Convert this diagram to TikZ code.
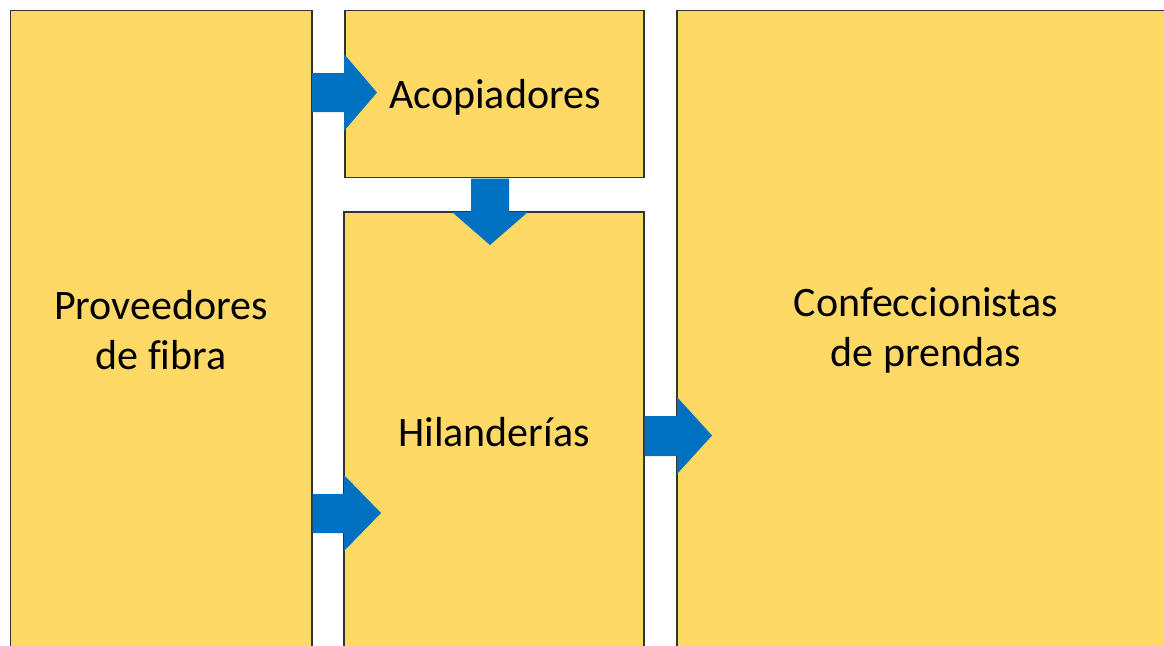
\documentclass[tikz,border=0pt]{standalone}
\usepackage{fontspec}
\setmainfont{Carlito}[Ligatures={NoCommon}]
\definecolor{boxfill}{RGB}{255,217,102}
\definecolor{arrowblue}{RGB}{0,112,192}
\begin{document}
\begin{tikzpicture}[x=1pt,y=-1pt,
  block/.style={draw=black!80,line width=1.1pt,fill=boxfill},
  lbl/.style={font=\fontsize{42}{50}\selectfont,align=center,inner sep=0pt},
  blockarrow/.style={fill=arrowblue,draw=none}]
\useasboundingbox (0,0) rectangle (1164,645);
\clip (0,0) rectangle (1164,645);
% boxes
\draw[block] (10.5,10.5) rectangle (312,660);
\draw[block] (345,10.5) rectangle (644,177.5);
\draw[block] (344,212) rectangle (644,660);
\draw[block] (677,10.5) rectangle (1180,660);
% labels
\node[lbl] (prov) at (161,330) {Proveedores\\de fibra};
\node[lbl] (acop) at (495,97) {Acopiadores};
\node[lbl] (hila) at (494,432) {Hilanderías};
\node[lbl] (conf) at (926,330) {Confeccionistas\\de prendas};
% block arrows
\fill[blockarrow] (312,73) -- (344,73) -- (344,54) -- (377,92.5) -- (344,131) -- (344,112) -- (312,112) -- cycle;
\fill[blockarrow] (471,178.5) -- (509,178.5) -- (509,212) -- (528,212) -- (490,245) -- (452,212) -- (471,212) -- cycle;
\fill[blockarrow] (312.5,494) -- (344,494) -- (344,475) -- (381,513) -- (344,551) -- (344,533) -- (312.5,533) -- cycle;
\fill[blockarrow] (644.5,416) -- (677,416) -- (677,397) -- (712,435.5) -- (677,474) -- (677,456) -- (644.5,456) -- cycle;
\end{tikzpicture}
\end{document}
